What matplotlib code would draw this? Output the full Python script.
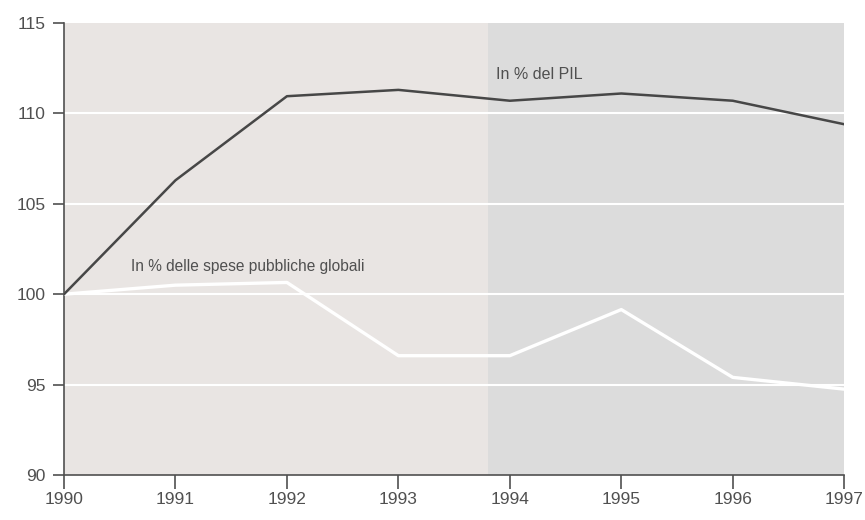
import matplotlib
matplotlib.use("Agg")
import matplotlib.pyplot as plt

anni = [1990, 1991, 1992, 1993, 1994, 1995, 1996, 1997]
pil = [100.0, 106.3, 110.95, 111.3, 110.7, 111.1, 110.7, 109.4]
spese = [100.0, 100.5, 100.65, 96.6, 96.6, 99.15, 95.4, 94.75]
yticks = [90, 95, 100, 105, 110, 115]

plt.rcParams['font.family'] = ['Liberation Sans', 'DejaVu Sans']
grigio = '#505050'

fig = plt.figure(figsize=(8.65, 5.2), dpi=100)
ax = fig.add_axes([0.074, 0.0865, 0.902, 0.8693])

# fondo (due toni, come nella scansione)
ax.axvspan(1990, 1993.8, color='#e9e5e3', lw=0, zorder=0)
ax.axvspan(1993.8, 1997, color='#dcdcdc', lw=0, zorder=0)

for v in [95, 100, 105, 110]:
    ax.axhline(v, color='white', lw=1.5, zorder=1)

ax.plot(anni, spese, color='white', lw=2.4, zorder=3)
ax.plot(anni, pil, color='#474747', lw=1.8, zorder=3)

ax.text(1993.88, 111.9, 'In % del PIL', color=grigio, fontsize=11.5, zorder=4)
ax.text(1990.6, 101.3, 'In % delle spese pubbliche globali', color=grigio, fontsize=11.2, zorder=4)

ax.set_xlim(1990, 1997)
ax.set_ylim(90, 115)
ax.set_xticks(anni)
ax.set_yticks(yticks)
ax.set_facecolor('white')

for s in ['top', 'right']:
    ax.spines[s].set_visible(False)
for s in ['left', 'bottom']:
    ax.spines[s].set_color(grigio)
    ax.spines[s].set_linewidth(1.2)

ax.tick_params(axis='y', direction='out', length=8, width=1.2, color=grigio,
               labelcolor=grigio, labelsize=12.5, pad=5)
ax.tick_params(axis='x', direction='out', length=10, width=1.2, color=grigio,
               labelcolor=grigio, labelsize=12.5, pad=2)

fig.savefig('out.png', dpi=100)
